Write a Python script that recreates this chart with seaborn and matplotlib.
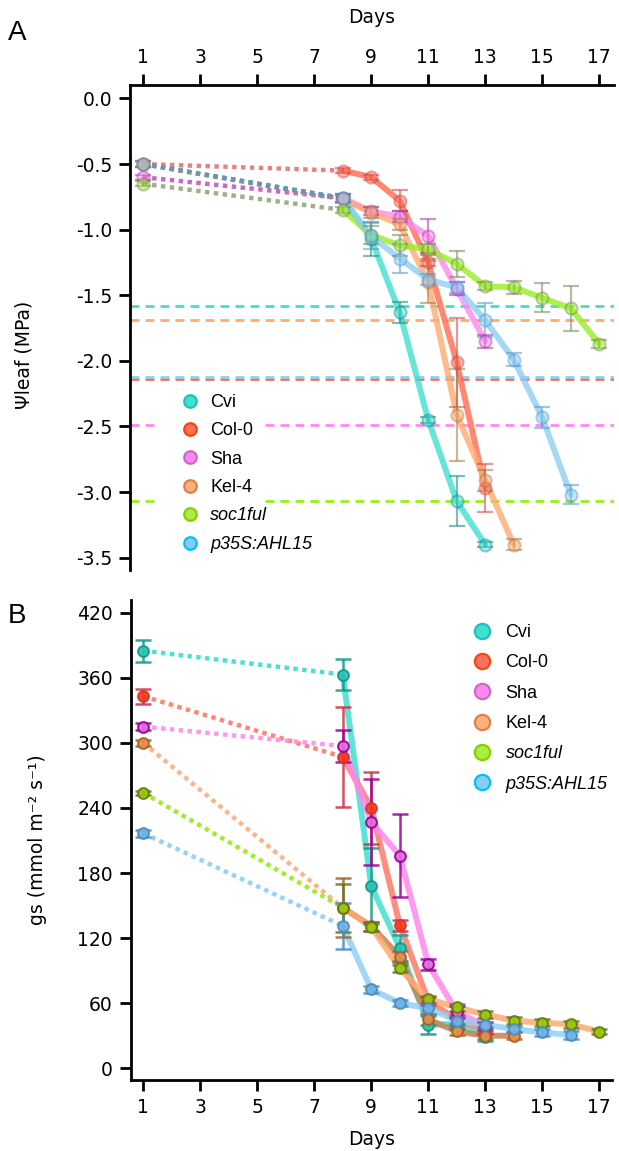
import numpy as np
import pandas as pd
import matplotlib
matplotlib.use("Agg")
import matplotlib.pyplot as plt
import seaborn as sns
from matplotlib.lines import Line2D
from matplotlib.patches import Rectangle

# ---------------- data ----------------
genotypes = ["Cvi", "Col-0", "Sha", "Kel-4", "soc1ful", "p35S:AHL15"]
x_ticks = [1, 3, 5, 7, 9, 11, 13, 15, 17]

# Panel A: leaf water potential (MPa)
psi_days = {
    "Cvi": [1, 8, 9, 10, 11, 12, 13],
    "Col-0": [1, 8, 9, 10, 11, 12, 13],
    "Sha": [1, 8, 9, 10, 11, 12, 13],
    "Kel-4": [1, 8, 9, 10, 11, 12, 13, 14],
    "soc1ful": [1, 8, 9, 10, 11, 12, 13, 14, 15, 16, 17],
    "p35S:AHL15": [1, 8, 9, 10, 11, 12, 13, 14, 15, 16],
}
psi_vals = {
    "Cvi": [-0.50, -0.76, -1.07, -1.63, -2.45, -3.07, -3.40],
    "Col-0": [-0.50, -0.55, -0.60, -0.78, -1.25, -2.01, -2.97],
    "Sha": [-0.60, -0.76, -0.86, -0.90, -1.05, -1.45, -1.85],
    "Kel-4": [-0.50, -0.77, -0.87, -0.96, -1.40, -2.41, -2.91, -3.40],
    "soc1ful": [-0.65, -0.85, -1.04, -1.12, -1.15, -1.26, -1.43, -1.44, -1.52, -1.60, -1.87],
    "p35S:AHL15": [-0.50, -0.76, -1.05, -1.22, -1.38, -1.44, -1.69, -1.99, -2.43, -3.02],
}
psi_err = {
    "Cvi": [0.02, 0.03, 0.13, 0.08, 0.02, 0.19, 0.02],
    "Col-0": [0.02, 0.02, 0.02, 0.08, 0.03, 0.34, 0.18],
    "Sha": [0.02, 0.03, 0.03, 0.04, 0.13, 0.05, 0.05],
    "Kel-4": [0.02, 0.03, 0.04, 0.04, 0.16, 0.35, 0.08, 0.04],
    "soc1ful": [0.02, 0.02, 0.07, 0.08, 0.04, 0.10, 0.03, 0.05, 0.11, 0.17, 0.03],
    "p35S:AHL15": [0.02, 0.03, 0.10, 0.11, 0.04, 0.04, 0.13, 0.05, 0.08, 0.07],
}
psi_threshold = {"Cvi": -1.58, "Kel-4": -1.69, "p35S:AHL15": -2.125, "Col-0": -2.14,
                 "Sha": -2.49, "soc1ful": -3.07}
psi_yticks = [0.0, -0.5, -1.0, -1.5, -2.0, -2.5, -3.0, -3.5]

# Panel B: stomatal conductance (mmol m-2 s-1)
gs_days = psi_days
gs_vals = {
    "Cvi": [385, 363, 168, 111, 40, 41, 28.6],
    "Col-0": [343, 287, 240, 132, 62, 45, 35],
    "Sha": [315, 297, 227, 196, 96, 52, 39],
    "Kel-4": [300, 148, 131, 103, 45, 34, 30, 30],
    "soc1ful": [254, 148, 130.5, 92, 63.6, 56.2, 49.5, 43.9, 42, 40.5, 33.8],
    "p35S:AHL15": [216.6, 131.2, 72.8, 60, 55.3, 44, 40, 36.2, 33, 30.7],
}
gs_err = {
    "Cvi": [10, 14, 35, 12, 8, 5, 3],
    "Col-0": [7, 46, 33, 5, 4, 4, 3],
    "Sha": [3, 15, 40, 38, 5, 5, 4],
    "Kel-4": [3, 27, 4, 5, 5, 3, 3, 3],
    "soc1ful": [2, 22, 4, 3, 3, 3, 3, 3, 3, 3, 2],
    "p35S:AHL15": [3, 21, 3, 3, 5, 4, 3, 3, 3, 4],
}
gs_yticks = [0, 60, 120, 180, 240, 300, 360, 420]

# ---------------- styles ----------------
A_line = {"Cvi": "#40E0D0", "Col-0": "#FF6A50", "Sha": "#FF88F0", "Kel-4": "#FFAA70",
          "soc1ful": "#99EE22", "p35S:AHL15": "#90CEF5"}
A_dot = {"Cvi": "#1A8A8A", "Col-0": "#DD6666", "Sha": "#BB44BB", "Kel-4": "#CC8844",
         "soc1ful": "#8A9A70", "p35S:AHL15": "#5599CC"}
A_edge = {"Cvi": "#118888", "Col-0": "#CC4444", "Sha": "#AA33AA", "Kel-4": "#AA7744",
          "soc1ful": "#778855", "p35S:AHL15": "#5599CC"}

B_dot = {"Cvi": "#40E0D0", "Col-0": "#FF8070", "Sha": "#FF90F0", "Kel-4": "#FFB080",
         "soc1ful": "#99EE22", "p35S:AHL15": "#90D0F8"}
B_line = {"Cvi": "#40E0D0", "Col-0": "#FF7A66", "Sha": "#FF88EE", "Kel-4": "#C48450",
          "soc1ful": "#FFAA70", "p35S:AHL15": "#90D0F8"}
B_fill = {"Cvi": "#2BC4B8", "Col-0": "#FF3A10", "Sha": "#E070E0", "Kel-4": "#E8904A",
          "soc1ful": "#99CC00", "p35S:AHL15": "#70B4E8"}
B_edge = {"Cvi": "#119988", "Col-0": "#CC3344", "Sha": "#990099", "Kel-4": "#A86028",
          "soc1ful": "#667720", "p35S:AHL15": "#4A8CC0"}

leg_fill = {"Cvi": "#40E0D0", "Col-0": "#FF7060", "Sha": "#FF88EE", "Kel-4": "#FFB080",
            "soc1ful": "#AAEE44", "p35S:AHL15": "#88CCF5"}
leg_edge = {"Cvi": "#20C0C0", "Col-0": "#FF4500", "Sha": "#CC66CC", "Kel-4": "#E08040",
            "soc1ful": "#88CC00", "p35S:AHL15": "#00BFFF"}

sns.set_theme(style="ticks")
plt.rcParams["font.family"] = ["DejaVu Sans"]
plt.rcParams["axes.unicode_minus"] = False
plt.rcParams["text.color"] = "black"
plt.rcParams["axes.labelcolor"] = "black"

fig = plt.figure(figsize=(6.19, 11.51), dpi=100)
axA = fig.add_axes([0.2100, 0.5048, 0.7819, 0.4214])
axB = fig.add_axes([0.2116, 0.0617, 0.7771, 0.4170])

DOT = (0, (1, 1))
TICKFS = 13.5

# ---------------- Panel A ----------------
for g in genotypes:
    axA.axhline(psi_threshold[g], color=A_line[g], lw=2.0, ls=(0, (3.2, 2.2)), zorder=1)
# white backing behind the legend (hides the dashed lines there)
axA.add_patch(Rectangle((0.062, 0.041), 0.217, 0.32, transform=axA.transAxes,
                        facecolor="white", edgecolor="none", zorder=1.5))

for g in genotypes:
    d = psi_days[g]
    v = psi_vals[g]
    sns.lineplot(x=d[:2], y=v[:2], ax=axA, color=A_dot[g], lw=3.2, linestyle=DOT,
                 alpha=0.8, zorder=2)
    sns.lineplot(x=d[1:], y=v[1:], ax=axA, color=A_line[g], lw=4.3, alpha=0.8,
                 solid_capstyle="round", zorder=3)
for g in genotypes:
    d = psi_days[g]
    v = psi_vals[g]
    axA.errorbar(d, v, yerr=psi_err[g], fmt="none", ecolor=A_edge[g], elinewidth=1.6,
                 capsize=5.5, capthick=1.6, alpha=0.55, zorder=4)
    sns.scatterplot(x=d, y=v, ax=axA, s=75, color=A_line[g], edgecolor=A_edge[g],
                    linewidth=1.5, alpha=0.45, zorder=5)

axA.set_xlim(0.533, 17.52)
axA.set_ylim(-3.594, 0.103)
axA.set_yticks(psi_yticks)
axA.set_yticklabels([f"{t:.1f}" for t in psi_yticks])
axA.set_xticks(x_ticks)
axA.xaxis.tick_top()
axA.xaxis.set_label_position("top")
axA.spines["bottom"].set_visible(False)
axA.spines["right"].set_visible(False)
axA.set_xlabel("Days", fontsize=TICKFS, labelpad=18)
axA.set_ylabel("Ψleaf (MPa)", fontsize=TICKFS)
axA.yaxis.set_label_coords(-0.200, 0.443)

# ---------------- Panel B ----------------
for g in genotypes:
    d = gs_days[g]
    v = gs_vals[g]
    sns.lineplot(x=d[:2], y=v[:2], ax=axB, color=B_dot[g], lw=3.2, linestyle=DOT,
                 alpha=0.95, zorder=2)
    sns.lineplot(x=d[1:], y=v[1:], ax=axB, color=B_line[g], lw=4.3, alpha=0.85,
                 solid_capstyle="round", zorder=3)
for g in genotypes:
    d = gs_days[g]
    v = gs_vals[g]
    axB.errorbar(d, v, yerr=gs_err[g], fmt="none", ecolor=B_edge[g], elinewidth=1.8,
                 capsize=6, capthick=1.8, alpha=0.85, zorder=4)
    sns.scatterplot(x=d, y=v, ax=axB, s=60, color=B_fill[g], edgecolor=B_edge[g],
                    linewidth=1.5, alpha=0.9, zorder=5)

axB.set_xlim(0.568, 17.445)
axB.set_ylim(-10.8, 431.7)
axB.set_yticks(gs_yticks)
axB.set_xticks(x_ticks)
axB.spines["top"].set_visible(False)
axB.spines["right"].set_visible(False)
axB.set_xlabel("Days", fontsize=TICKFS, labelpad=9)
axB.set_ylabel("gs (mmol m⁻² s⁻¹)", fontsize=TICKFS)
axB.yaxis.set_label_coords(-0.175, 0.5)

for ax in (axA, axB):
    for s in ax.spines.values():
        s.set_linewidth(2.0)
        s.set_color("black")
    ax.tick_params(axis="both", length=8, width=2.0, labelsize=TICKFS, pad=5,
                   color="black", labelcolor="black")
    ax.grid(False)

# ---------------- legends ----------------
def handles(fill, edge, ms):
    return [Line2D([], [], marker="o", linestyle="none", markersize=ms,
                   markerfacecolor=fill[g], markeredgecolor=edge[g], markeredgewidth=1.6)
            for g in genotypes]

legA = axA.legend(handles(leg_fill, leg_edge, 9), genotypes, loc="upper left",
                  bbox_to_anchor=(181 / 619, 1 - 394 / 1151), bbox_transform=fig.transFigure,
                  frameon=False, handlelength=1.0, handletextpad=0.62, labelspacing=0.63,
                  borderpad=0, borderaxespad=0, prop={"family": "Liberation Sans", "size": 13})
legB = axB.legend(handles(leg_fill, leg_edge, 11), genotypes, loc="upper left",
                  bbox_to_anchor=(473 / 619, 1 - 624 / 1151), bbox_transform=fig.transFigure,
                  frameon=False, handlelength=1.0, handletextpad=0.8, labelspacing=0.74,
                  borderpad=0, borderaxespad=0, prop={"family": "Liberation Sans", "size": 13})
for leg in (legA, legB):
    for t in leg.get_texts():
        t.set_color("black")
        if t.get_text() in ("soc1ful", "p35S:AHL15"):
            t.set_fontstyle("italic")

fig.text(8 / 619, 1 - 40 / 1151, "A", fontsize=20, family="Liberation Sans",
         ha="left", va="baseline", color="black")
fig.text(8 / 619, 1 - 623 / 1151, "B", fontsize=20, family="Liberation Sans",
         ha="left", va="baseline", color="black")

fig.savefig("out.png", dpi=100)
